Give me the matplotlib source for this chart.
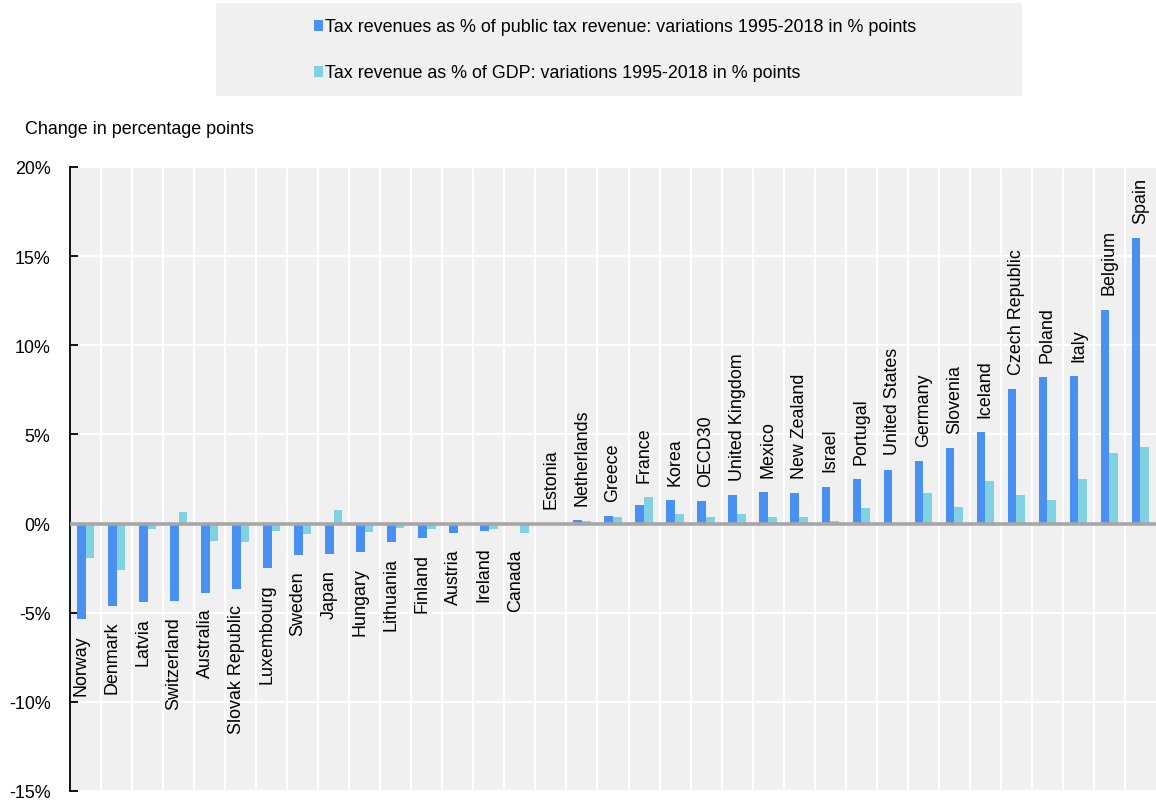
import matplotlib.pyplot as plt
import numpy as np
from matplotlib.patches import Rectangle

plt.rcParams['font.family'] = ['Liberation Sans', 'DejaVu Sans']

# data (percentage points)
countries = [
    "Norway", "Denmark", "Latvia", "Switzerland", "Australia", "Slovak Republic",
    "Luxembourg", "Sweden", "Japan", "Hungary", "Lithuania", "Finland", "Austria",
    "Ireland", "Canada", "Estonia", "Netherlands", "Greece", "France", "Korea",
    "OECD30", "United Kingdom", "Mexico", "New Zealand", "Israel", "Portugal",
    "United States", "Germany", "Slovenia", "Iceland", "Czech Republic", "Poland",
    "Italy", "Belgium", "Spain",
]
share_public = [
    -5.35, -4.60, -4.38, -4.36, -3.87, -3.65, -2.48, -1.79, -1.71, -1.60, -1.02,
    -0.79, -0.55, -0.43, 0.0, 0.0, 0.20, 0.41, 1.03, 1.33, 1.27, 1.58, 1.76,
    1.72, 2.07, 2.50, 3.03, 3.52, 4.23, 5.13, 7.53, 8.22, 8.28, 12.0, 16.0,
]
share_gdp = [
    -1.94, -2.60, -0.28, 0.64, -1.00, -1.05, -0.43, -0.58, 0.77, -0.47, -0.25,
    -0.28, 0.0, -0.32, -0.53, 0.0, 0.17, 0.35, 1.48, 0.52, 0.39, 0.56, 0.39,
    0.36, 0.13, 0.90, 0.0, 1.70, 0.93, 2.38, 1.61, 1.33, 2.51, 3.96, 4.28,
]
yticks = [-15, -10, -5, 0, 5, 10, 15, 20]

label_public = "Tax revenues as % of public tax revenue: variations 1995-2018 in % points"
label_gdp = "Tax revenue as % of GDP: variations 1995-2018 in % points"

dark = "#4891F3"
light = "#80D1E1"
bg = "#F0F0F0"
fs = 12.9

fig = plt.figure(figsize=(11.56, 8.03), dpi=100)
ax = fig.add_axes([70 / 1156, 1 - 792 / 803, 1 - 70 / 1156, (792 - 168) / 803])
ax.set_facecolor(bg)

x = np.arange(len(countries))
w = 0.28
ax.bar(x - w / 2, share_public, width=w, color=dark, zorder=3)
ax.bar(x + w / 2, share_gdp, width=w, color=light, zorder=3)

# white separators between categories and horizontal grid
for xv in x[:-1] + 0.5:
    ax.axvline(xv, color="white", lw=1.6, zorder=1)
for yv in yticks:
    ax.axhline(yv, color="white", lw=1.6, zorder=1)
ax.axhline(0, color="#A6A6A6", lw=2.6, zorder=4)

ax.set_xlim(-0.5, len(countries) - 0.5)
ax.set_ylim(-15, 20)
ax.set_yticks(yticks)
ax.set_yticklabels([f"{v}%" for v in yticks], fontsize=fs)
ax.tick_params(axis="y", direction="in", length=6, width=1.3, pad=14, color="black")
ax.set_xticks([])
for s in ["top", "right", "bottom"]:
    ax.spines[s].set_visible(False)
ax.spines["left"].set_linewidth(1.3)

# country labels at the bar ends
for i, name in enumerate(countries):
    lo = min(share_public[i], share_gdp[i], 0)
    hi = max(share_public[i], share_gdp[i], 0)
    if lo < 0:
        ax.annotate(name, (i - 0.15, lo), xytext=(0, -11), textcoords="offset points",
                    rotation=90, ha="center", va="top", fontsize=fs, zorder=5)
    else:
        ax.annotate(name, (i, hi), xytext=(0, 11), textcoords="offset points",
                    rotation=90, ha="center", va="bottom", fontsize=fs, zorder=5)

fig.text(25 / 1156, 1 - 130 / 803, "Change in percentage points", fontsize=fs,
         ha="left", va="center")

# legend box
fig.patches.append(Rectangle((216 / 1156, 1 - 97 / 803), (1022 - 216) / 1156, 93 / 803,
                             transform=fig.transFigure, facecolor=bg, edgecolor="none",
                             zorder=0))
for ypix, col, lab in [(27, dark, label_public), (73, light, label_gdp)]:
    yf = 1 - ypix / 803
    fig.patches.append(Rectangle((314 / 1156, yf - 5 / 803), 9 / 1156, 11 / 803,
                                 transform=fig.transFigure, facecolor=col,
                                 edgecolor="none"))
    fig.text(325 / 1156, yf, lab, fontsize=fs, ha="left", va="center")

fig.savefig("out.png", dpi=100)
